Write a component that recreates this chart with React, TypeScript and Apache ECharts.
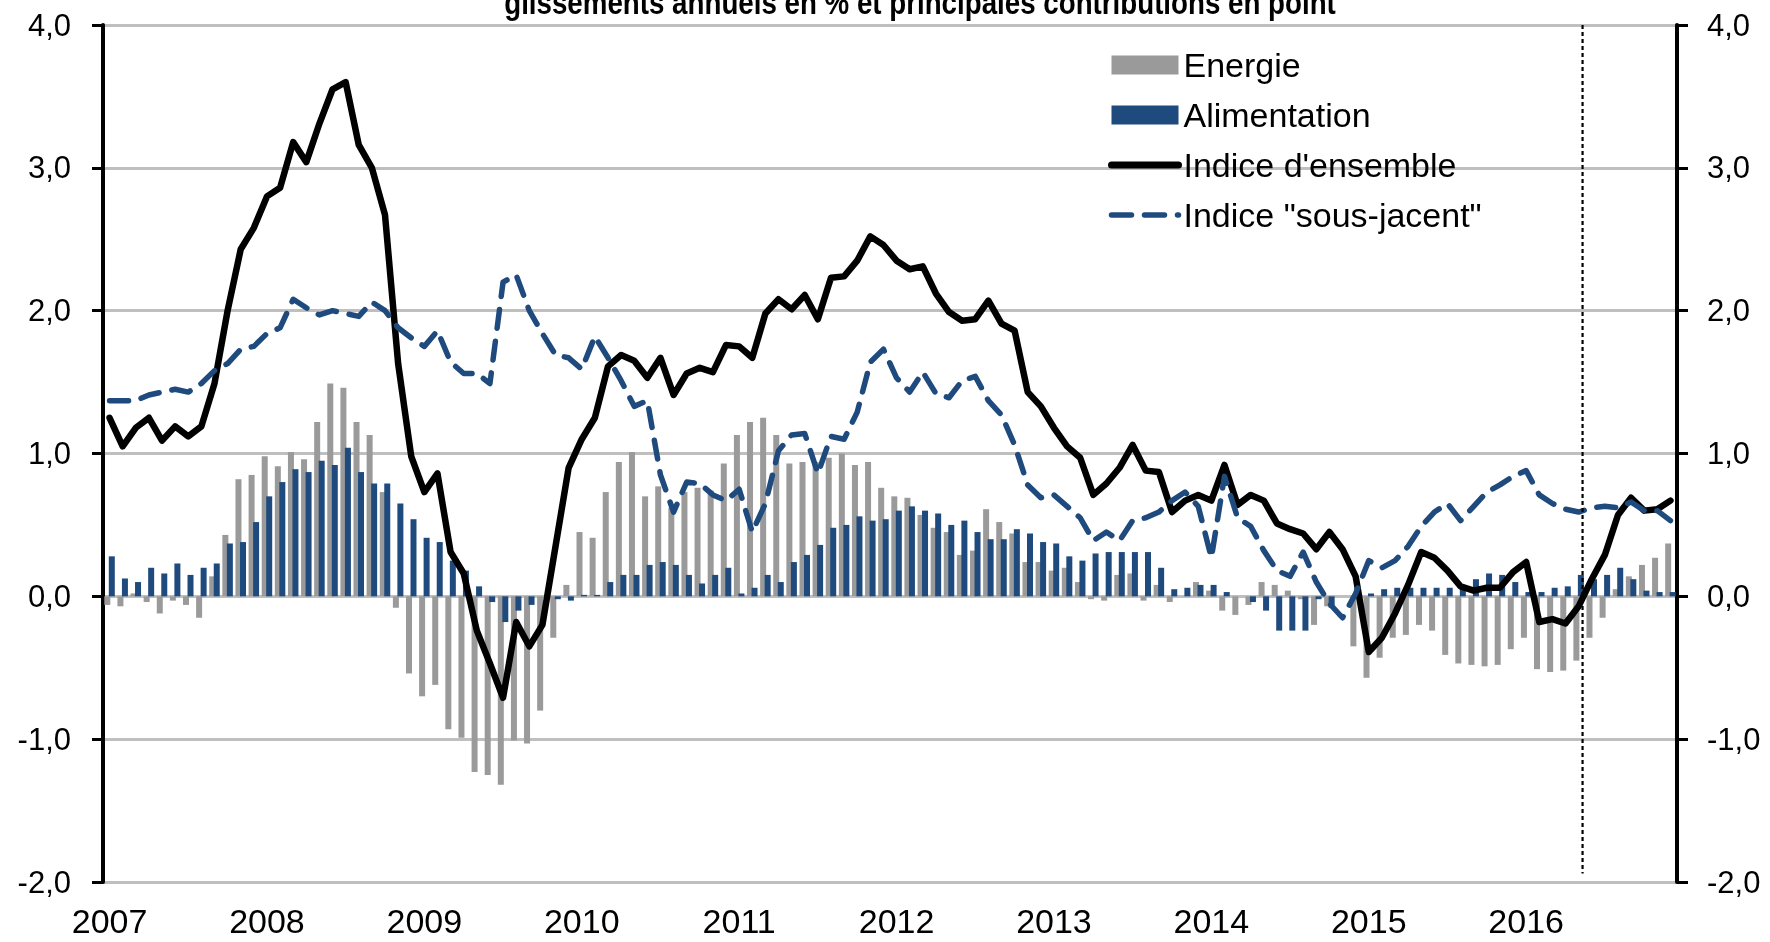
import { useEffect, useRef } from 'react';
import * as echarts from 'echarts';

const years = [2007, 2008, 2009, 2010, 2011, 2012, 2013, 2014, 2015, 2016];
const monthCodes = ['01', '02', '03', '04', '05', '06', '07', '08', '09', '10', '11', '12'];
const categories = years.flatMap((y) => monthCodes.map((m) => `${y}-${m}`));

const titleText = 'glissements annuels en % et principales contributions en point';

const energie = [
  -0.06, -0.07, 0.02, -0.04, -0.12, -0.03, -0.06, -0.15, 0.14, 0.43, 0.82, 0.85,
  0.98, 0.91, 1.01, 0.96, 1.22, 1.49, 1.46, 1.22, 1.13, 0.73, -0.08, -0.54,
  -0.70, -0.62, -0.93, -0.99, -1.23, -1.25, -1.32, -1.01, -1.03, -0.80, -0.29, 0.08,
  0.45, 0.41, 0.73, 0.94, 1.01, 0.70, 0.77, 0.62, 0.73, 0.76, 0.74, 0.93,
  1.13, 1.22, 1.25, 1.13, 0.93, 0.94, 0.94, 0.97, 1.00, 0.92, 0.94, 0.76,
  0.70, 0.69, 0.57, 0.48, 0.45, 0.29, 0.32, 0.61, 0.52, 0.44, 0.24, 0.24,
  0.18, 0.20, 0.10, -0.02, -0.03, 0.15, 0.16, -0.03, 0.08, -0.04, 0.00, 0.10,
  0.04, -0.10, -0.13, -0.06, 0.10, 0.08, 0.04, -0.02, -0.20, -0.07, 0.00, -0.35,
  -0.57, -0.43, -0.29, -0.27, -0.20, -0.24, -0.41, -0.47, -0.48, -0.49, -0.48, -0.37,
  -0.29, -0.51, -0.53, -0.52, -0.45, -0.29, -0.15, 0.05, 0.14, 0.22, 0.27, 0.37,
];

const alimentation = [
  0.28, 0.125, 0.10, 0.20, 0.16, 0.23, 0.15, 0.20, 0.23, 0.37, 0.38, 0.52,
  0.70, 0.80, 0.89, 0.87, 0.95, 0.92, 1.04, 0.87, 0.79, 0.79, 0.65, 0.54,
  0.41, 0.38, 0.25, 0.18, 0.07, -0.04, -0.18, -0.10, -0.06, 0.00, -0.02, -0.03,
  0.01, 0.01, 0.10, 0.15, 0.15, 0.22, 0.24, 0.22, 0.15, 0.09, 0.15, 0.20,
  0.02, 0.06, 0.15, 0.10, 0.24, 0.29, 0.36, 0.48, 0.50, 0.56, 0.53, 0.54,
  0.60, 0.63, 0.60, 0.58, 0.50, 0.53, 0.45, 0.40, 0.40, 0.47, 0.44, 0.38,
  0.37, 0.28, 0.25, 0.30, 0.31, 0.31, 0.31, 0.31, 0.20, 0.05, 0.06, 0.08,
  0.08, 0.03, 0.00, -0.04, -0.10, -0.24, -0.24, -0.24, -0.02, -0.08, 0.00, 0.04,
  0.02, 0.05, 0.06, 0.06, 0.06, 0.06, 0.06, 0.08, 0.12, 0.16, 0.15, 0.10,
  0.03, 0.03, 0.06, 0.07, 0.15, 0.12, 0.15, 0.20, 0.12, 0.04, 0.03, 0.03,
];

const indiceEnsemble = [
  1.25, 1.05, 1.18, 1.25, 1.09, 1.19, 1.12, 1.19, 1.49, 2.00, 2.43, 2.58,
  2.80, 2.86, 3.18, 3.04, 3.31, 3.55, 3.60, 3.16, 3.00, 2.67, 1.63, 0.98,
  0.73, 0.86, 0.31, 0.16, -0.24, -0.47, -0.71, -0.18, -0.35, -0.20, 0.35, 0.90,
  1.10, 1.25, 1.61, 1.69, 1.65, 1.53, 1.67, 1.41, 1.56, 1.60, 1.57, 1.76,
  1.75, 1.67, 1.98, 2.08, 2.01, 2.11, 1.94, 2.23, 2.24, 2.35, 2.52, 2.46,
  2.35, 2.29, 2.31, 2.12, 1.99, 1.93, 1.94, 2.07, 1.91, 1.86, 1.43, 1.33,
  1.18, 1.05, 0.97, 0.71, 0.79, 0.90, 1.06, 0.88, 0.87, 0.59, 0.67, 0.71,
  0.67, 0.92, 0.64, 0.71, 0.67, 0.51, 0.47, 0.44, 0.33, 0.45, 0.33, 0.14,
  -0.39, -0.29, -0.12, 0.08, 0.31, 0.27, 0.18, 0.07, 0.04, 0.06, 0.06, 0.17,
  0.24, -0.18, -0.16, -0.19, -0.07, 0.12, 0.29, 0.57, 0.69, 0.60, 0.61, 0.67,
];

const indiceSousJacent = [
  1.37, 1.37, 1.37, 1.41, 1.43, 1.45, 1.43, 1.49, 1.58, 1.63, 1.73, 1.75,
  1.84, 1.88, 2.08, 2.02, 1.97, 2.00, 1.98, 1.96, 2.06, 2.00, 1.88, 1.81,
  1.75, 1.86, 1.64, 1.56, 1.56, 1.49, 2.20, 2.25, 2.00, 1.84, 1.69, 1.67,
  1.59, 1.82, 1.67, 1.51, 1.33, 1.37, 0.85, 0.59, 0.80, 0.79, 0.71, 0.67,
  0.75, 0.45, 0.65, 1.02, 1.13, 1.14, 0.86, 1.12, 1.10, 1.29, 1.64, 1.73,
  1.53, 1.43, 1.57, 1.42, 1.39, 1.51, 1.54, 1.37, 1.27, 1.06, 0.78, 0.69,
  0.71, 0.63, 0.55, 0.39, 0.45, 0.39, 0.53, 0.55, 0.59, 0.67, 0.73, 0.63,
  0.27, 0.84, 0.55, 0.49, 0.32, 0.18, 0.14, 0.31, 0.10, -0.05, -0.15, 0.02,
  0.25, 0.20, 0.25, 0.35, 0.49, 0.59, 0.65, 0.53, 0.63, 0.73, 0.78, 0.84,
  0.88, 0.71, 0.65, 0.61, 0.59, 0.62, 0.63, 0.62, 0.66, 0.60, 0.60, 0.53,
];

// vertical dotted separator (month index position on a 0..120 scale, y extent)
const separatorLine = [
  [112.8, 4.0],
  [112.8, -1.94],
];

const FONT = "'Liberation Sans', Arial, sans-serif";
const GREY = '#9A9A9A';
const BLUE = '#1F4A7D';
const BLACK_W = 6.5;
const DASH_W = 5.5;
const DASH: number[] = [19, 13];

const fmt = (v: number) => v.toFixed(1).replace('.', ',');

export default function App() {
  const ref = useRef<HTMLDivElement>(null);

  useEffect(() => {
    if (!ref.current) return;
    const chart = echarts.init(ref.current, null, { renderer: 'svg' });

    const yCommon = {
      type: 'value',
      min: -2,
      max: 4,
      interval: 1,
      axisLine: { show: true, lineStyle: { color: '#000', width: 4 } },
      axisTick: { show: true, inside: false, length: 11, lineStyle: { color: '#000', width: 3 } },
      axisLabel: { fontSize: 31, color: '#000', fontFamily: FONT, formatter: fmt },
    };

    chart.setOption({
      animation: false,
      textStyle: { fontFamily: FONT },
      grid: { left: 103, right: 93, top: 25, bottom: 60, containLabel: false },
      graphic: [
        {
          type: 'text',
          x: 920,
          y: 2,
          scaleX: 0.84,
          silent: true,
          style: {
            text: titleText,
            fontSize: 33,
            fontWeight: 'bold',
            fontFamily: FONT,
            fill: '#000',
            align: 'center',
            verticalAlign: 'middle',
          },
        },
      ],
      legend: {
        orient: 'vertical',
        left: 1103,
        top: 43,
        itemWidth: 67,
        itemHeight: 19,
        itemGap: 16,
        selectedMode: false,
        textStyle: { fontSize: 34, color: '#000', fontFamily: FONT, lineHeight: 33 },
        data: [
          { name: 'Energie', icon: 'rect' },
          { name: 'Alimentation', icon: 'rect' },
          {
            name: "Indice d'ensemble",
            itemStyle: { color: 'transparent', opacity: 0 },
            lineStyle: { color: '#000', width: BLACK_W + 0.5, cap: 'round' },
          },
          {
            name: 'Indice "sous-jacent"',
            itemStyle: { color: 'transparent', opacity: 0 },
            lineStyle: { color: BLUE, width: DASH_W, type: [20, 13], cap: 'round' },
          },
        ],
      },
      xAxis: [
        {
          type: 'category',
          data: categories,
          boundaryGap: true,
          axisLine: { show: false, onZero: false },
          axisTick: { show: false },
          splitLine: { show: false },
          axisLabel: {
            interval: (i: number) => i % 12 === 0,
            formatter: (v: string) => v.slice(0, 4),
            fontSize: 34,
            color: '#000',
            fontFamily: FONT,
            margin: 22,
          },
        },
        {
          type: 'value',
          min: 0,
          max: 120,
          show: false,
          axisLine: { onZero: false },
        },
      ],
      yAxis: [
        {
          ...yCommon,
          position: 'left',
          axisLabel: { ...yCommon.axisLabel, margin: 32 },
          splitLine: { show: true, lineStyle: { color: '#BFBFBF', width: 3 } },
        },
        {
          ...yCommon,
          position: 'right',
          axisLabel: { ...yCommon.axisLabel, margin: 30 },
          splitLine: { show: false },
        },
      ],
      series: [
        {
          name: 'Energie',
          type: 'bar',
          data: energie,
          barWidth: 6,
          barGap: '-25%',
          itemStyle: { color: GREY },
        },
        {
          name: 'Alimentation',
          type: 'bar',
          data: alimentation,
          barWidth: 6,
          barGap: '-25%',
          itemStyle: { color: BLUE },
        },
        {
          name: "Indice d'ensemble",
          type: 'line',
          data: indiceEnsemble,
          symbol: 'none',
          showSymbol: false,
          itemStyle: { color: '#000' },
          lineStyle: { color: '#000', width: BLACK_W, cap: 'round', join: 'round' },
          z: 3,
        },
        {
          name: 'Indice "sous-jacent"',
          type: 'line',
          data: indiceSousJacent,
          symbol: 'none',
          showSymbol: false,
          itemStyle: { color: BLUE },
          lineStyle: { color: BLUE, width: DASH_W, type: DASH, cap: 'round', join: 'round' },
          z: 4,
        },
        {
          name: 'separator',
          type: 'line',
          xAxisIndex: 1,
          yAxisIndex: 0,
          data: separatorLine,
          symbol: 'none',
          silent: true,
          lineStyle: { color: '#000', width: 2.2, type: [4, 3] },
          z: 5,
        },
      ],
    });

    return () => chart.dispose();
  }, []);

  return (
    <div
      ref={ref}
      style={{ position: 'fixed', left: 0, top: 0, width: 1770, height: 942 }}
    />
  );
}
